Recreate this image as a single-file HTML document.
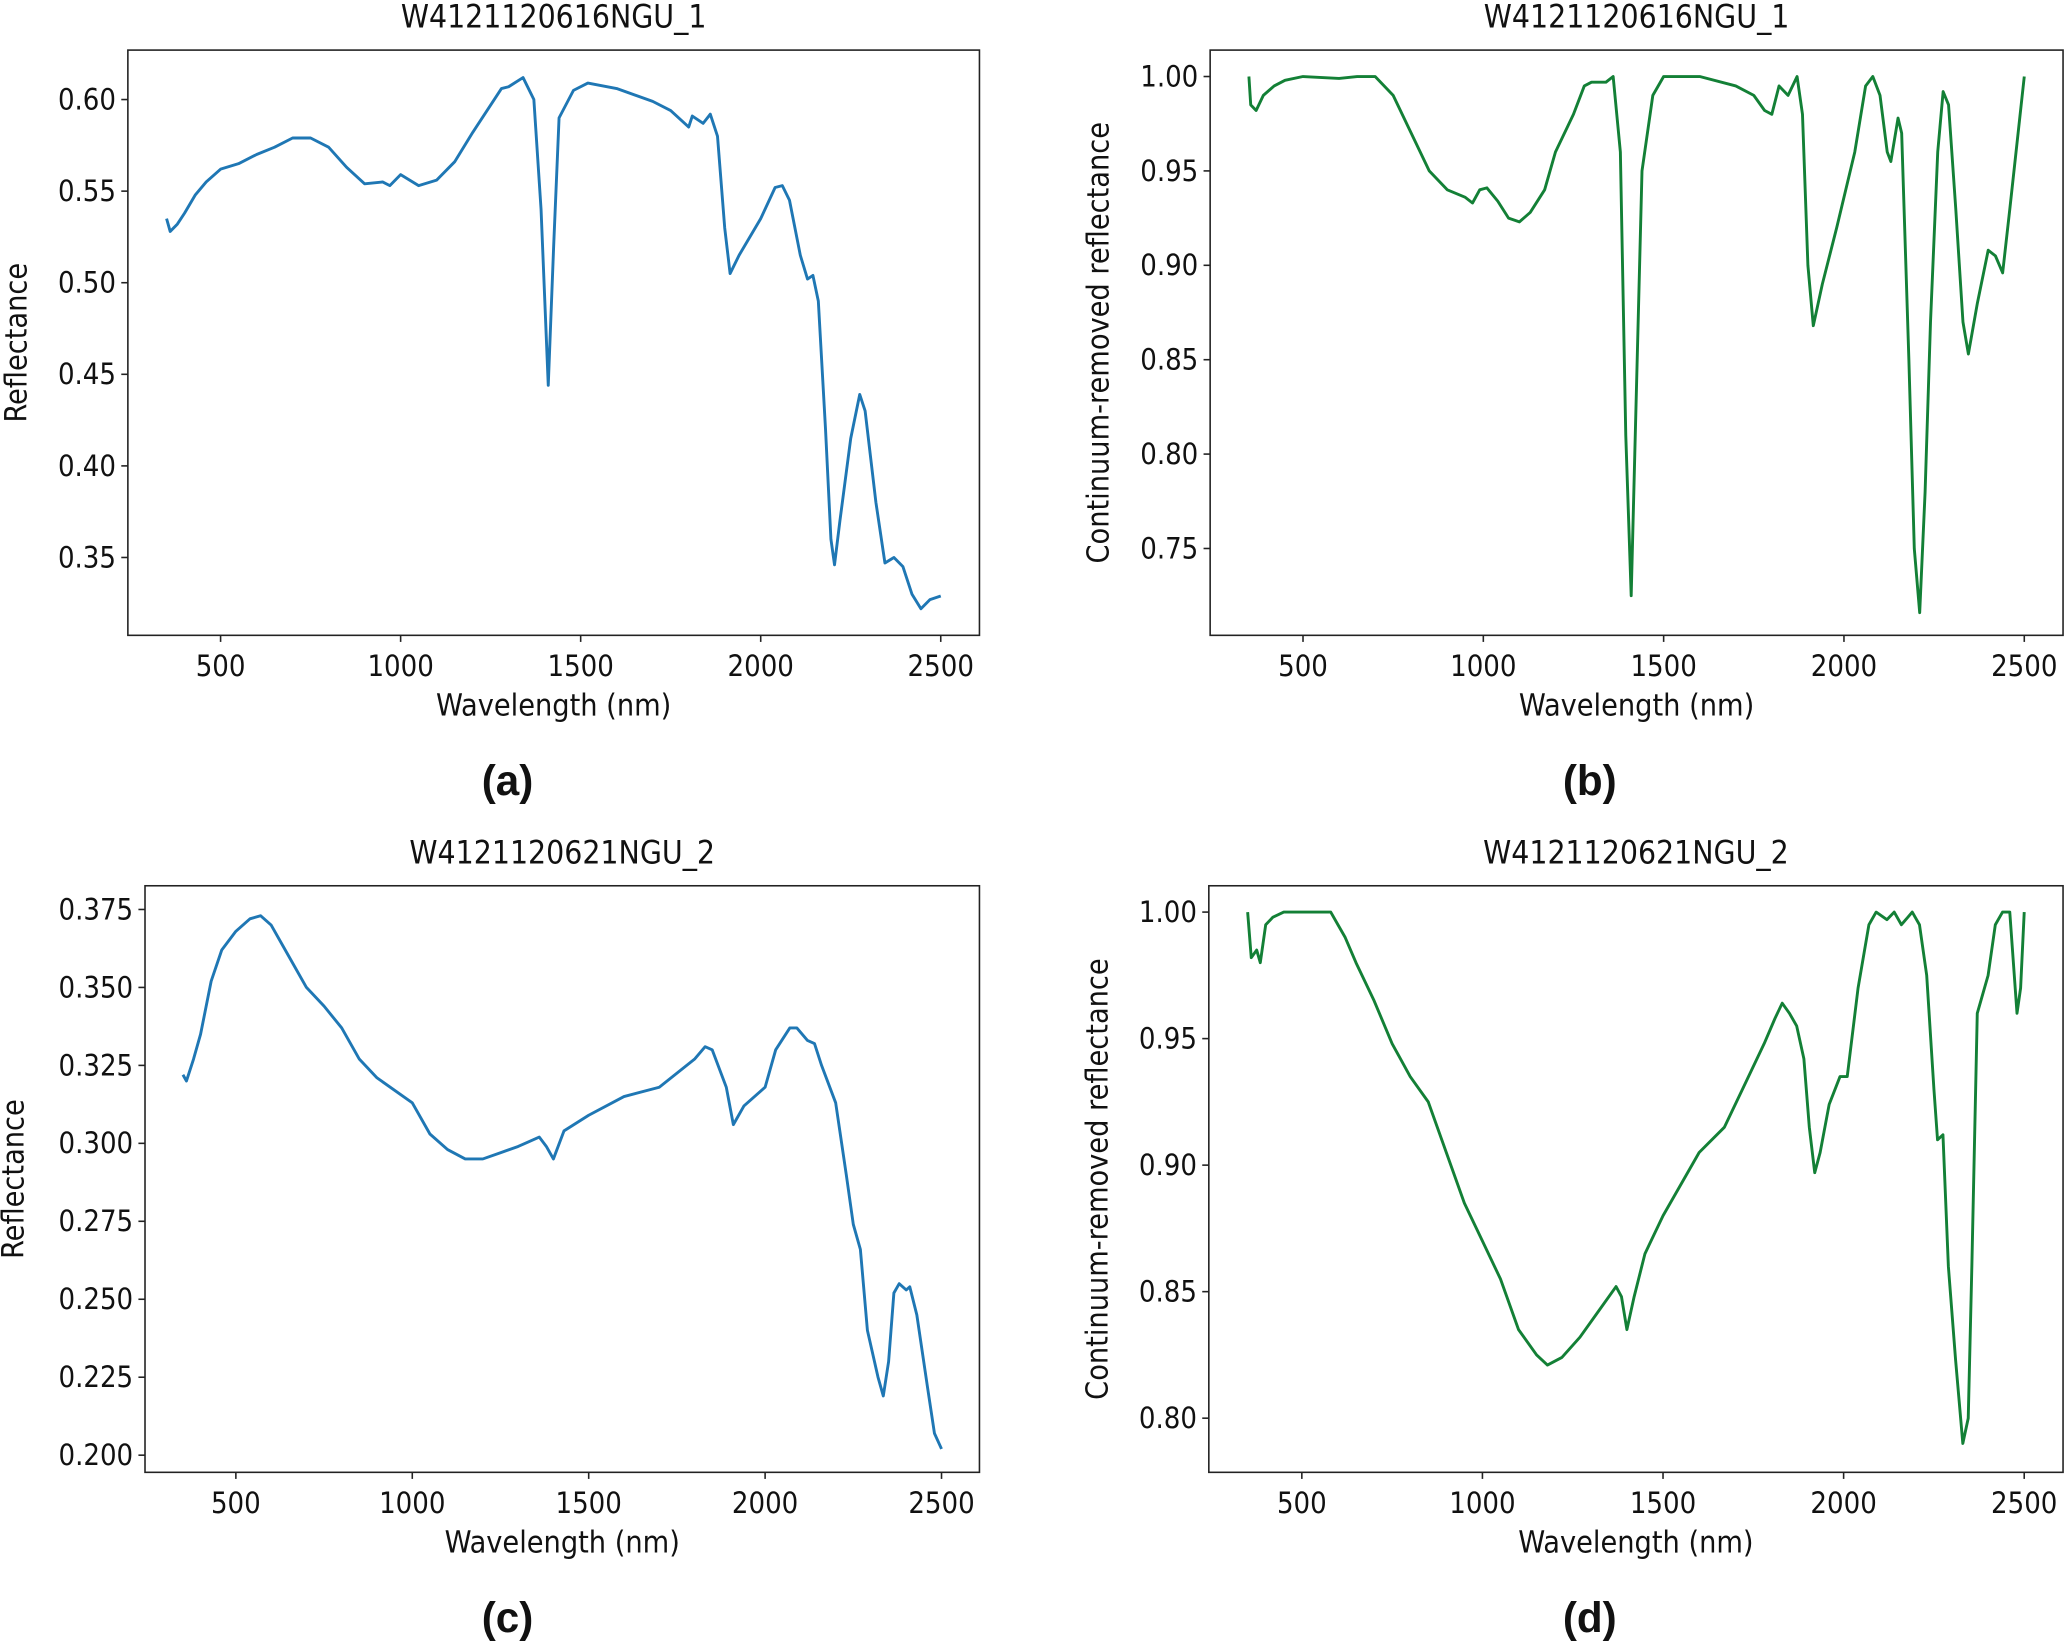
<!DOCTYPE html>
<html><head><meta charset="utf-8">
<style>
html,body{margin:0;padding:0;background:#fff;}
svg{display:block;}
text{font-family:"DejaVu Sans Condensed","DejaVu Sans","Liberation Sans",sans-serif;fill:#111;}
</style></head>
<body>
<svg id="fig" xmlns="http://www.w3.org/2000/svg" width="2067" height="1645" viewBox="0 0 1568 1248" preserveAspectRatio="none"></svg>
<script>
// ---- data ----
const xTicks = [500, 1000, 1500, 2000, 2500];
const wlA = [350,360,380,400,430,460,500,550,600,650,700,750,800,850,900,950,970,1000,1050,1100,1150,1200,1250,1280,1300,1340,1370,1390,1410,1425,1440,1480,1520,1600,1700,1750,1800,1810,1840,1860,1880,1900,1915,1940,2000,2040,2060,2080,2110,2130,2145,2160,2180,2195,2205,2220,2250,2275,2290,2320,2345,2370,2395,2420,2445,2470,2500];
const valA = [0.535,0.528,0.532,0.538,0.548,0.555,0.562,0.565,0.570,0.574,0.579,0.579,0.574,0.563,0.554,0.555,0.553,0.559,0.553,0.556,0.566,0.582,0.597,0.606,0.607,0.612,0.600,0.540,0.444,0.520,0.590,0.605,0.609,0.606,0.599,0.594,0.585,0.591,0.587,0.592,0.580,0.530,0.505,0.515,0.535,0.552,0.553,0.545,0.515,0.502,0.504,0.490,0.420,0.360,0.346,0.370,0.415,0.439,0.430,0.380,0.347,0.350,0.345,0.330,0.322,0.327,0.329];
const yTicksA = [0.35,0.40,0.45,0.50,0.55,0.60];
const yLabelsA = ["0.35","0.40","0.45","0.50","0.55","0.60"];

const wlB = [350,355,370,390,420,450,500,600,650,700,750,800,850,900,950,970,990,1010,1040,1070,1100,1130,1170,1200,1250,1280,1300,1340,1360,1380,1395,1410,1420,1440,1470,1500,1600,1700,1750,1780,1800,1820,1845,1870,1885,1900,1915,1940,1980,2030,2060,2080,2100,2120,2130,2150,2160,2180,2195,2210,2225,2240,2260,2275,2290,2310,2330,2345,2370,2400,2420,2440,2460,2500];
const valB = [1.0,0.985,0.982,0.99,0.995,0.998,1.0,0.999,1.0,1.0,0.99,0.97,0.95,0.94,0.936,0.933,0.940,0.941,0.934,0.925,0.923,0.928,0.94,0.96,0.98,0.995,0.997,0.997,1.0,0.96,0.81,0.725,0.80,0.95,0.99,1.0,1.0,0.995,0.99,0.982,0.98,0.995,0.99,1.0,0.98,0.90,0.868,0.89,0.92,0.96,0.995,1.0,0.99,0.96,0.955,0.978,0.97,0.85,0.75,0.716,0.78,0.87,0.96,0.992,0.985,0.93,0.87,0.853,0.88,0.908,0.905,0.896,0.93,1.0];
const yTicksB = [0.75,0.80,0.85,0.90,0.95,1.00];
const yLabelsB = ["0.75","0.80","0.85","0.90","0.95","1.00"];

const wlC = [350,360,380,400,430,460,500,540,570,600,650,700,750,800,850,900,1000,1050,1100,1150,1200,1250,1300,1360,1380,1400,1430,1500,1600,1700,1800,1830,1850,1870,1890,1910,1940,1980,2000,2030,2070,2090,2120,2140,2160,2200,2230,2250,2270,2290,2320,2335,2350,2365,2380,2400,2410,2430,2460,2480,2500];
const valC = [0.322,0.320,0.327,0.335,0.352,0.362,0.368,0.372,0.373,0.370,0.360,0.350,0.344,0.337,0.327,0.321,0.313,0.303,0.298,0.295,0.295,0.297,0.299,0.302,0.299,0.295,0.304,0.309,0.315,0.318,0.327,0.331,0.330,0.324,0.318,0.306,0.312,0.316,0.318,0.330,0.337,0.337,0.333,0.332,0.325,0.313,0.290,0.274,0.266,0.240,0.225,0.219,0.230,0.252,0.255,0.253,0.254,0.245,0.222,0.207,0.202];
const yTicksC = [0.200,0.225,0.250,0.275,0.300,0.325,0.350,0.375];
const yLabelsC = ["0.200","0.225","0.250","0.275","0.300","0.325","0.350","0.375"];

const wlD = [350,360,375,385,400,420,450,550,580,600,620,650,700,750,800,850,900,950,1000,1050,1100,1150,1180,1220,1270,1320,1370,1385,1400,1420,1450,1500,1600,1670,1720,1780,1810,1830,1850,1870,1890,1905,1920,1935,1960,1990,2010,2040,2070,2090,2120,2140,2160,2190,2210,2230,2250,2260,2275,2290,2310,2330,2345,2355,2370,2400,2420,2440,2460,2470,2480,2490,2500];
const valD = [1.0,0.982,0.985,0.98,0.995,0.998,1.0,1.0,1.0,0.995,0.99,0.98,0.965,0.948,0.935,0.925,0.905,0.885,0.870,0.855,0.835,0.825,0.821,0.824,0.832,0.842,0.852,0.848,0.835,0.848,0.865,0.880,0.905,0.915,0.930,0.948,0.958,0.964,0.960,0.955,0.942,0.915,0.897,0.905,0.924,0.935,0.935,0.970,0.995,1.0,0.997,1.0,0.995,1.0,0.995,0.975,0.930,0.91,0.912,0.860,0.823,0.79,0.80,0.86,0.96,0.975,0.995,1.0,1.0,0.98,0.96,0.97,1.0];
const yTicksD = [0.80,0.85,0.90,0.95,1.00];
const yLabelsD = ["0.80","0.85","0.90","0.95","1.00"];

// ---- drawing ----
const NS = "http://www.w3.org/2000/svg";
const svg = document.getElementById('fig');
function mk(tag, attrs, parent){
  const e = document.createElementNS(NS, tag);
  for (const k in attrs) e.setAttribute(k, attrs[k]);
  (parent||svg).appendChild(e);
  return e;
}
const XMIN = 242.5, XMAX = 2607.5;

function panel(p){
  const g = mk('g', {});
  
  
  const xs = v => p.x0 + (v - XMIN) / (XMAX - XMIN) * (p.x1 - p.x0);
  const ys = v => p.y1 - (v - p.ymin) / (p.ymax - p.ymin) * (p.y1 - p.y0);
  let d = '';
  p.wl.forEach((w, i) => { d += (i ? 'L' : 'M') + xs(w).toFixed(2) + ',' + ys(p.val[i]).toFixed(2); });
  const line = mk('path', {d: d, fill: 'none', stroke: p.color, 'stroke-width': 2.2, 'stroke-linejoin': 'round'}, g);
  
  
  const fr = mk('rect', {x: p.x0, y: p.y0, width: p.x1 - p.x0, height: p.y1 - p.y0, fill: 'none', stroke: '#222', 'stroke-width': 1.2}, g);
  
  
  xTicks.forEach(t => {
    const x = xs(t);
    mk('line', {x1: x, x2: x, y1: p.y1, y2: p.y1 + 5, stroke: '#222', 'stroke-width': 1.2}, g);
    const tx = mk('text', {x: x, y: p.y1 + 31, 'text-anchor': 'middle', 'font-size': 22}, g);
    tx.textContent = t;
    
    
  });
  p.yt.forEach((t, i) => {
    const y = ys(t);
    mk('line', {x1: p.x0 - 5, x2: p.x0, y1: y, y2: y, stroke: '#222', 'stroke-width': 1.2}, g);
    const tx = mk('text', {x: p.x0 - 9, y: y + 7.5, 'text-anchor': 'end', 'font-size': 22}, g);
    tx.textContent = p.yl[i];
    
    
  });
  const cx = (p.x0 + p.x1) / 2;
  const ti = mk('text', {x: cx, y: p.y0 - 17, 'text-anchor': 'middle', 'font-size': 24}, g);
  ti.textContent = p.title;
  
  
  const xl = mk('text', {x: cx, y: p.y1 + 61, 'text-anchor': 'middle', 'font-size': 23}, g);
  xl.textContent = 'Wavelength (nm)';
  
  
  const ycy = (p.y0 + p.y1) / 2;
  const yl = mk('text', {x: p.ylx, y: ycy, 'text-anchor': 'middle', 'font-size': 23, transform: 'rotate(-90 ' + p.ylx + ' ' + ycy + ')'}, g);
  yl.textContent = p.ylabel;
  
  
  const lb = mk('text', {x: p.lx, y: p.y1 + 121, 'text-anchor': 'middle', 'font-size': 32, 'font-weight': 'bold', style: 'font-family:"Liberation Sans",sans-serif'}, g);
  lb.textContent = '(' + p.id + ')';
  
  
}

panel({id:'a', x0:97, x1:743, y0:38, y1:482, ymin:0.3075, ymax:0.627, wl:wlA, val:valA, yt:yTicksA, yl:yLabelsA, color:'#1f77b4', title:'W4121120616NGU_1', ylabel:'Reflectance', ylx:20, lx:385});
panel({id:'b', x0:918, x1:1565, y0:38, y1:482, ymin:0.704, ymax:1.014, wl:wlB, val:valB, yt:yTicksB, yl:yLabelsB, color:'#138036', title:'W4121120616NGU_1', ylabel:'Continuum-removed reflectance', ylx:841, lx:1206});
panel({id:'c', x0:110, x1:743, y0:672, y1:1117, ymin:0.1945, ymax:0.3826, wl:wlC, val:valC, yt:yTicksC, yl:yLabelsC, color:'#1f77b4', title:'W4121120621NGU_2', ylabel:'Reflectance', ylx:18, lx:385});
panel({id:'d', x0:917, x1:1565, y0:672, y1:1117, ymin:0.7786, ymax:1.0104, wl:wlD, val:valD, yt:yTicksD, yl:yLabelsD, color:'#138036', title:'W4121120621NGU_2', ylabel:'Continuum-removed reflectance', ylx:840, lx:1206});
</script>
</body></html>
